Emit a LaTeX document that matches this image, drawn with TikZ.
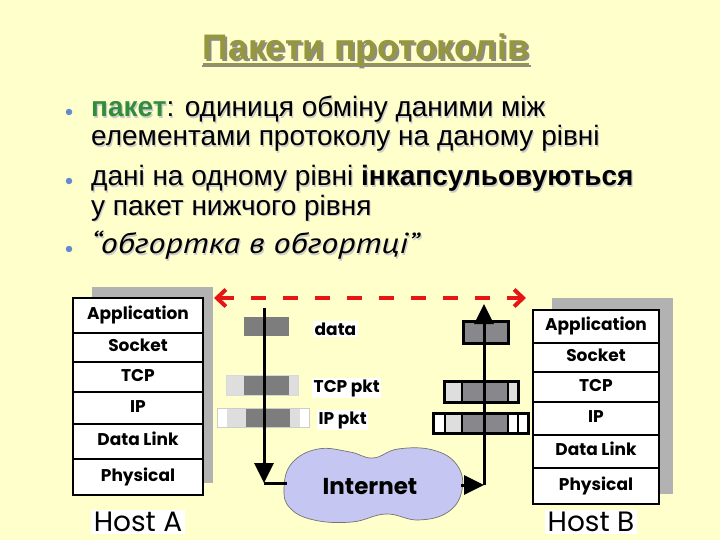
\documentclass[tikz,border=0pt]{standalone}
\usepackage{fontspec}
\setmainfont{Liberation Sans}
\newfontfamily\geo{Poppins}
\newfontfamily\ptsans{PT Sans}
\usetikzlibrary{arrows.meta}
\definecolor{bg}{HTML}{FFFFCC}
\definecolor{titlecol}{RGB}{150,150,60}
\definecolor{pgreen}{RGB}{51,140,60}
\definecolor{bulletcol}{RGB}{105,135,205}
\definecolor{pdark}{RGB}{125,125,125}
\definecolor{pdarkb}{RGB}{135,135,140}
\definecolor{plight}{RGB}{222,222,222}
\definecolor{cloudcol}{RGB}{198,198,242}
\definecolor{redline}{RGB}{230,20,20}
\tikzset{
  bodytxt/.style={anchor=base west, inner sep=0, text height=20pt, text depth=5pt, font=\fontsize{28}{32}\selectfont},
  row/.style={draw=black, fill=white, line width=2.6, inner sep=0, outer sep=0,
    text height=12.5pt, text depth=4pt, font=\geo\bfseries\fontsize{17}{20}\selectfont},
  pktlabel/.style={anchor=base west, fill=white, inner sep=1.5, font=\geo\bfseries\fontsize{17}{20}\selectfont},
  hostlabel/.style={anchor=base, fill=white, inner xsep=3, inner ysep=1.5, text height=20pt, text depth=1pt, font=\geo\fontsize{28}{30}\selectfont},
  conn/.style={draw=black, line width=3},
  bigtip/.style={-{Triangle[length=20pt,width=19pt]}},
  reddash/.style={draw=redline, line width=4, dash pattern=on 15pt off 17pt,
    {Straight Barb[length=9pt,width=17pt]}-{Straight Barb[length=9pt,width=17pt]}},
  bulletdot/.style={circle, fill=bulletcol, inner sep=0, minimum size=6.5}
}
% shadow copy of a text, drawn behind the text itself within one node
\newcommand{\shd}[3]{\makebox[0pt][l]{\hspace{#1}\raisebox{-#1}[0pt][0pt]{\color{#2}#3}}}
\newcommand{\quotetxt}{\ptsans\itshape\fontsize{29}{32}\selectfont\scalebox{1.17}[1]{“обгортка в обгортці”}}
\begin{document}
\begin{tikzpicture}[x=1pt,y=-1pt]
\useasboundingbox (0,0) rectangle (720,540);
\fill[bg] (0,0) rectangle (720,540);

% title
\draw[black!45, line width=2.5] (202,66) -- (531,66);
\node[anchor=base, inner sep=0, text=titlecol, font=\bfseries\fontsize{35.5}{38}\selectfont] (title) at (366,60)
  {\shd{2pt}{black!45}{Пакети протоколів}Пакети протоколів};
\draw[titlecol, line width=2.5] ([shift={(0pt,-4pt)}]title.base west) -- ([shift={(0pt,-4pt)}]title.base east);

% bullets
\node[bulletdot] (b1) at (69,112) {};
\node[bulletdot] (b2) at (69,181) {};
\node[bulletdot] (b3) at (69,249) {};

% body text
\node[bodytxt] (t1) at (91,117) {\shd{1.2pt}{black!20}{\textbf{пакет}: одиниця обміну даними між}\textbf{\color{pgreen}пакет}: одиниця обміну даними між};
\node[bodytxt] (t2) at (91,146) {\shd{1.2pt}{black!20}{елементами протоколу на даному рівні}елементами протоколу на даному рівні};
\node[bodytxt] (t3) at (91,186) {\shd{1.2pt}{black!20}{дані на одному рівні \textbf{інкапсульовуються}}дані на одному рівні \textbf{інкапсульовуються}};
\node[bodytxt] (t4) at (91,215) {\shd{1.2pt}{black!20}{у пакет нижчого рівня}у пакет нижчого рівня};
\node[bodytxt] (t5) at (91,254) {\shd{1.2pt}{black!20}{\quotetxt}\quotetxt};

% stack shadows
\fill[black!30] (92,287) rectangle (213,483);
\fill[black!30] (552,298) rectangle (673,494);

% Host A stack
\node[row, minimum width=130, minimum height=35] (aApp) at (138,315.5) {Application};
\node[row, minimum width=130, minimum height=29] (aSock) at (138,347.5) {Socket};
\node[row, minimum width=130, minimum height=30] (aTCP) at (138,377) {TCP};
\node[row, minimum width=130, minimum height=32] (aIP) at (138,408) {IP};
\node[row, minimum width=130, minimum height=35] (aDL) at (138,441.5) {Data Link};
\node[row, minimum width=130, minimum height=36] (aPhy) at (138,477) {Physical};
\node[hostlabel] (hostA) at (138,531) {Host A};

% Host B stack
\node[row, minimum width=126, minimum height=33] (bApp) at (596,326.5) {Application};
\node[row, minimum width=126, minimum height=29] (bSock) at (596,357.5) {Socket};
\node[row, minimum width=126, minimum height=30] (bTCP) at (596,387) {TCP};
\node[row, minimum width=126, minimum height=33] (bIP) at (596,418.5) {IP};
\node[row, minimum width=126, minimum height=33] (bDL) at (596,451.5) {Data Link};
\node[row, minimum width=126, minimum height=36] (bPhy) at (596,486) {Physical};
\node[hostlabel] (hostB) at (591,531) {Host B};

% left packets (sender)
\fill[pdark] (244,317) rectangle (289,336);
\fill[plight] (226,375) rectangle (244,395);
\fill[pdark] (244,375) rectangle (289,395);
\fill[plight] (289,375) rectangle (298,395);
\draw[black!15, line width=0.6] (226,375) rectangle (298,395);
\fill[white] (217,408) rectangle (227,427);
\fill[plight] (227,408) rectangle (246,427);
\fill[pdark] (246,408) rectangle (290,427);
\fill[plight] (290,408) rectangle (300,427);
\fill[white] (300,408) rectangle (309,427);
\draw[black!20, line width=0.6] (217,408) rectangle (309,427);
\node[pktlabel] (ldata) at (313,335) {data};
\node[pktlabel] (ltcp) at (312,392) {TCP pkt};
\node[pktlabel] (lip) at (317,424) {IP pkt};

% right packets (receiver)
\fill[pdarkb] (463,321) rectangle (508,343);
\draw[black, line width=3] (463,321) rectangle (508,343);
\fill[plight] (444,381) rectangle (462,402);
\fill[pdarkb] (462,381) rectangle (508,402);
\fill[plight] (508,381) rectangle (518,402);
\draw[black, line width=3] (444,381) rectangle (518,402);
\draw[black, line width=2.5] (462,381) -- (462,402) (508,381) -- (508,402);
\fill[white] (433,413) rectangle (445,433);
\fill[plight] (445,413) rectangle (462,433);
\fill[pdarkb] (462,413) rectangle (508,433);
\fill[white] (508,413) rectangle (528,433);
\draw[black, line width=3] (433,413) rectangle (528,433);
\draw[black, line width=2.5] (445,413) -- (445,433) (462,413) -- (462,433) (508,413) -- (508,433) (518,413) -- (518,433);

% cloud
\draw[fill=cloudcol, draw=black!55, line width=0.7]
  plot[smooth cycle, tension=0.7] coordinates {(284,488) (292,463) (318,449) (350,452) (373,458) (398,449) (433,450) (457,465) (462,490) (448,512) (418,520) (386,514) (352,522) (314,520) (290,508)};
\node[font=\geo\bfseries\fontsize{23}{26}\selectfont, inner sep=0] (cloud) at (370,487) {Internet};

% connectors
\coordinate (aTop) at (264,308);
\coordinate (aCorner) at (264,483);
\coordinate (cloudL) at (287,483);
\coordinate (cloudR) at (461,485);
\coordinate (bCorner) at (484,485);
\coordinate (bTop) at (484,304);
\draw[conn, bigtip] (aTop) -- (aCorner);
\draw[conn] (aCorner) -- (cloudL);
\draw[conn, bigtip] (cloudR) -- (bCorner);
\draw[conn, bigtip] (bCorner) -- (bTop);

% red dashed peer arrow
\coordinate (pA) at (214,298);
\coordinate (pB) at (526,298);
\draw[reddash] (pA) -- (pB);
\end{tikzpicture}
\end{document}
